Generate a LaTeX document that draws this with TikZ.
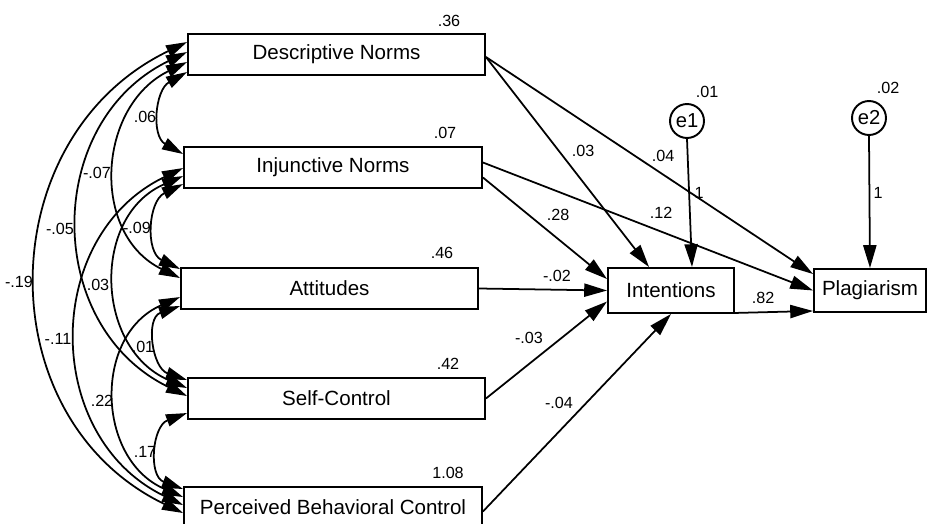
\documentclass[tikz,border=0pt]{standalone}
\usepackage{fontspec}
\setmainfont{Liberation Sans}
\usetikzlibrary{arrows.meta,calc}
\begin{document}
\begin{tikzpicture}[x=0.02cm,y=-0.02cm,
  box/.style={draw,line width=1.1pt,inner sep=0pt,font=\fontsize{11.7pt}{13pt}\selectfont},
  err/.style={draw,circle,line width=1.1pt,inner sep=0pt,minimum size=0.68cm,font=\fontsize{11.5pt}{13pt}\selectfont},
  num/.style={font=\fontsize{9.2pt}{10pt}\selectfont,inner sep=0pt},
  reg/.style={line width=1pt,-{Triangle[length=13pt,width=7.5pt]}},
  cov/.style={line width=1pt,{Triangle[length=12pt,width=7pt]}-{Triangle[length=12pt,width=7pt]}}
]
\useasboundingbox (0,0) rectangle (927,524);
\fill[white] (0,0) rectangle (927,524);

% variables
\node[box,minimum width=5.94cm,minimum height=0.82cm] (dn)  at (336.5,54.5)  {Descriptive Norms};
\node[box,minimum width=5.96cm,minimum height=0.82cm] (inj) at (333,167.5)   {Injunctive Norms};
\node[box,minimum width=5.94cm,minimum height=0.82cm] (att) at (329.5,288.5) {Attitudes};
\node[box,minimum width=5.94cm,minimum height=0.82cm] (sc)  at (336.5,398.5) {Self-Control};
\node[box,minimum width=5.96cm,minimum height=0.82cm] (pbc) at (333,507.5)   {Perceived Behavioral Control};
\node[box,minimum width=2.52cm,minimum height=0.9cm]  (int) at (671,290.5)   {Intentions};
\node[box,minimum width=2.24cm,minimum height=0.86cm] (pl)  at (870,290.5)   {Plagiarism};
\node[err] (e1) at (687,121) {e1};
\node[err] (e2) at (869,118) {e2};

% covariances
\draw[cov] ($(dn.north west)+(0,39)$)  .. controls +(-32,18)  and +(-32,-18)  .. ($(inj.north west)+(0,8)$);
\draw[cov] ($(inj.north west)+(0,38)$) .. controls +(-35,17)  and +(-35,-17)  .. ($(att.north west)+(0,2)$);
\draw[cov] ($(att.north west)+(0,39)$) .. controls +(-35,12)  and +(-35,-12)  .. ($(sc.north west)+(0,3)$);
\draw[cov] ($(sc.north west)+(0,36)$)  .. controls +(-35,13)  and +(-35,-13)  .. ($(pbc.north west)+(0,3)$);
\draw[cov] ($(dn.north west)+(0,29)$)  .. controls +(-90,44)  and +(-90,-44)  .. ($(att.north west)+(0,11)$);
\draw[cov] ($(inj.north west)+(0,30)$) .. controls +(-92,40)  and +(-92,-40)  .. ($(sc.north west)+(0,11)$);
\draw[cov] ($(att.north west)+(0,30)$) .. controls +(-87,38)  and +(-87,-38)  .. ($(pbc.north west)+(0,11)$);
\draw[cov] ($(dn.north west)+(0,19)$)  .. controls +(-144,70) and +(-144,-70) .. ($(sc.north west)+(0,19)$);
\draw[cov] ($(inj.north west)+(0,22)$) .. controls +(-141,68) and +(-141,-68) .. ($(pbc.north west)+(0,19)$);
\draw[cov] ($(dn.north west)+(0,9)$)   .. controls +(-197,95) and +(-197,-95) .. ($(pbc.north west)+(0,27)$);

% regressions
\draw[reg] ($(dn.east)+(0,2.5)$) -- ($(int.north west)+(42,0)$);
\draw[reg] ($(dn.east)+(0,2.5)$) -- ($(pl.north west)+(0,6)$);
\draw[reg] ($(inj.east)+(0,10)$) -- ($(int.north west)+(0,12)$);
\draw[reg] ($(inj.east)+(0,-5)$) -- (pl.west);
\draw[reg] (att.east) -- (int.west);
\draw[reg] (sc.east) -- ($(int.west)+(0,11)$);
\draw[reg] ($(pbc.east)+(0,4)$) -- (int.south);
\draw[reg] (e1.south) -- ($(int.north)+(21,0)$);
\draw[reg] (e2.south) -- (pl.north);
\draw[reg] ($(int.south east)+(0,-1)$) -- ($(pl.south west)+(0,-2)$);

% variances
\node[num] (v1) at (449,21)  {.36};
\node[num] (v2) at (445,133) {.07};
\node[num] (v3) at (442,253) {.46};
\node[num] (v4) at (448,364) {.42};
\node[num] (v5) at (448,473) {1.08};
\node[num] (v6) at (707,92)  {.01};
\node[num] (v7) at (888,88)  {.02};

% path coefficients
\node[num] (p1)  at (583,151) {.03};
\node[num] (p2)  at (663,156) {.04};
\node[num] (p3)  at (699,193) {1};
\node[num] (p4)  at (878,193) {1};
\node[num] (p5)  at (558,215) {.28};
\node[num] (p6)  at (661,213) {.12};
\node[num] (p7)  at (557,276) {-.02};
\node[num] (p8)  at (763,298) {.82};
\node[num] (p9)  at (529,338) {-.03};
\node[num] (p10) at (559,403) {-.04};

% covariance values
\node[num] (c1)  at (145,117) {.06};
\node[num] (c2)  at (97,173)  {-.07};
\node[num] (c3)  at (60,229)  {-.05};
\node[num] (c4)  at (137,228) {-.09};
\node[num] (c5)  at (19,282)  {-.19};
\node[num] (c6)  at (98,285)  {.03};
\node[num] (c7)  at (58,339)  {-.11};
\node[num] (c8)  at (143,347) {.01};
\node[num] (c9)  at (102,401) {.22};
\node[num] (c10) at (145,452) {.17};
\end{tikzpicture}
\end{document}
